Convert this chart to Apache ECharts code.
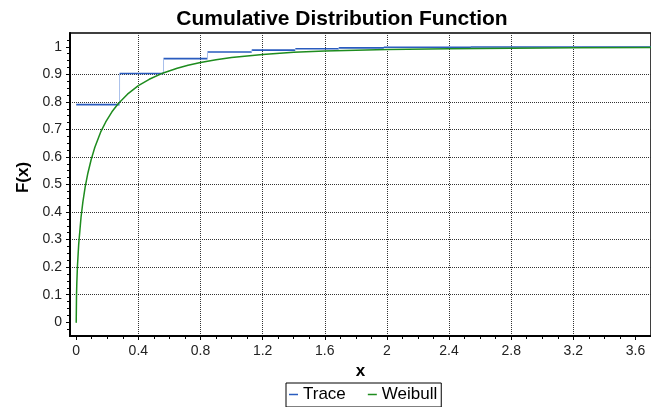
<!DOCTYPE html>
<html>
<head>
<meta charset="utf-8">
<script src="https://cdn.jsdelivr.net/npm/echarts@6/dist/echarts.min.js"></script>
<style>
html,body{margin:0;padding:0;background:#fff;}
#chart{width:651px;height:407px;}
</style>
</head>
<body>
<div id="chart"></div>
<script>
// ---- data ----
const traceX = [0, 0.279, 0.562, 0.845, 1.13, 1.41, 1.69, 1.98, 2.54, 3.7];
const traceF = [0.79, 0.903, 0.957, 0.981, 0.988, 0.993, 0.996, 0.998, 0.999, 0.999];

const weibullX = [0, 0.002, 0.004, 0.008, 0.016, 0.031, 0.043, 0.058, 0.075, 0.096, 0.12, 0.157, 0.19, 0.23, 0.27, 0.33, 0.4, 0.47, 0.56, 0.65, 0.72, 0.8, 0.9, 1.0, 1.2, 1.4, 1.6, 2.0, 2.4, 2.8, 3.2, 3.7];
const weibullF = [0, 0.101, 0.144, 0.204, 0.283, 0.381, 0.437, 0.492, 0.541, 0.59, 0.635, 0.69, 0.727, 0.764, 0.793, 0.828, 0.859, 0.882, 0.905, 0.922, 0.933, 0.943, 0.953, 0.961, 0.972, 0.98, 0.985, 0.99, 0.993, 0.995, 0.996, 0.997];

const xTicks = [0, 0.4, 0.8, 1.2, 1.6, 2, 2.4, 2.8, 3.2, 3.6];
const yTicks = [0, 0.1, 0.2, 0.3, 0.4, 0.5, 0.6, 0.7, 0.8, 0.9, 1];

const title = 'Cumulative Distribution Function';
const xName = 'x';
const yName = 'F(x)';
const legendNames = ['Trace', 'Weibull'];

// ---- build series data ----
const traceFlat = [];
const traceRisers = [];
for (let i = 0; i < traceX.length - 1; i++) {
  traceFlat.push([traceX[i], traceF[i]]);
  traceFlat.push([traceX[i + 1], traceF[i]]);
  traceFlat.push(null);
  traceRisers.push([traceX[i + 1], traceF[i]]);
  traceRisers.push([traceX[i + 1], traceF[i + 1]]);
  traceRisers.push(null);
}
const weibull = weibullX.map((x, i) => [x, weibullF[i]]);

function minorOf(ticks, n, lo, hi) {
  const out = [];
  const step = (ticks[1] - ticks[0]) / n;
  const start = ticks[0] - step * Math.ceil((ticks[0] - lo) / step);
  for (let v = start; v < hi - 1e-9; v += step) {
    const r = Math.round(v * 10000) / 10000;
    if (r > lo + 1e-9 && !ticks.some(t => Math.abs(t - r) < 1e-6)) out.push(r);
  }
  return out;
}

const X_MIN = -0.04, X_MAX = 3.7, Y_MIN = -0.05, Y_MAX = 1.05;
const xMinor = minorOf(xTicks, 4, X_MIN, X_MAX);
const yMinor = minorOf(yTicks, 4, Y_MIN, Y_MAX);

const FONT = 'Liberation Sans, Arial, sans-serif';
const chart = echarts.init(document.getElementById('chart'), null, {renderer: 'canvas'});

chart.setOption({
  animation: false,
  backgroundColor: '#fff',
  title: {
    text: title,
    left: 337,
    textAlign: 'center',
    top: 4,
    textStyle: {fontFamily: FONT, fontSize: 21, fontWeight: 'bold', color: '#000'}
  },
  grid: {
    left: 70, right: -9, top: 33, bottom: 71,
    show: true, borderColor: '#000', borderWidth: 1.5, backgroundColor: 'transparent'
  },
  legend: {
    data: legendNames,
    left: 286, top: 383,
    icon: 'rect', itemWidth: 9, itemHeight: 1.5, itemGap: 22,
    padding: [3, 4, 4, 3],
    borderColor: '#000', borderWidth: 1,
    textStyle: {fontFamily: FONT, fontSize: 17, color: '#000'}
  },
  xAxis: [{
    type: 'value', min: X_MIN, max: X_MAX, minInterval: 0.4, maxInterval: 0.4,
    name: xName, nameLocation: 'middle', nameGap: 18,
    nameTextStyle: {fontFamily: FONT, fontSize: 17, fontWeight: 'bold', color: '#000'},
    axisLine: {show: true, onZero: false, lineStyle: {color: '#000', width: 2}},
    axisTick: {show: true, customValues: xTicks, length: 4, lineStyle: {color: '#000', width: 1}},
    axisLabel: {customValues: xTicks, margin: 8, fontFamily: FONT, fontSize: 14, color: '#222',
      formatter: v => String(+v.toFixed(2))},
    splitLine: {show: true, showMinLine: false, showMaxLine: false, lineStyle: {type: 'dotted', color: '#333', width: 1}}
  }, {
    type: 'value', min: X_MIN, max: X_MAX, position: 'bottom',
    axisLine: {show: false, onZero: false},
    axisTick: {show: true, customValues: xMinor, length: 3, lineStyle: {color: '#000', width: 1}},
    axisLabel: {show: false},
    splitLine: {show: false}
  }],
  yAxis: [{
    type: 'value', min: Y_MIN, max: Y_MAX, minInterval: 0.1, maxInterval: 0.1,
    name: yName, nameLocation: 'middle', nameGap: 36, nameRotate: 90,
    nameTextStyle: {fontFamily: FONT, fontSize: 17, fontWeight: 'bold', color: '#000', padding: [0, 0, 0, 14]},
    axisLine: {show: true, onZero: false, lineStyle: {color: '#000', width: 2}},
    axisTick: {show: true, customValues: yTicks, length: 4, lineStyle: {color: '#000', width: 1}},
    axisLabel: {customValues: yTicks, margin: 8, fontFamily: FONT, fontSize: 14, color: '#222',
      formatter: v => String(+v.toFixed(2))},
    splitLine: {show: true, showMinLine: false, showMaxLine: false, lineStyle: {type: 'dotted', color: '#333', width: 1}}
  }, {
    type: 'value', min: Y_MIN, max: Y_MAX, position: 'left',
    axisLine: {show: false, onZero: false},
    axisTick: {show: true, customValues: yMinor, length: 3, lineStyle: {color: '#000', width: 1}},
    axisLabel: {show: false},
    splitLine: {show: false}
  }],
  series: [{
    name: 'Trace', type: 'line', data: traceFlat, showSymbol: false, connectNulls: false,
    lineStyle: {color: '#2a5cbf', width: 1.6}, itemStyle: {color: '#2a5cbf'}
  }, {
    name: 'Trace', type: 'line', data: traceRisers, showSymbol: false, connectNulls: false,
    lineStyle: {color: '#a8bfeb', width: 1}, itemStyle: {color: '#2a5cbf'}
  }, {
    name: 'Weibull', type: 'line', data: weibull, showSymbol: false, smooth: false,
    lineStyle: {color: '#1e8c1e', width: 1.5, join: 'round', cap: 'round'}, itemStyle: {color: '#1e8c1e'}
  }]
});
</script>
</body>
</html>
